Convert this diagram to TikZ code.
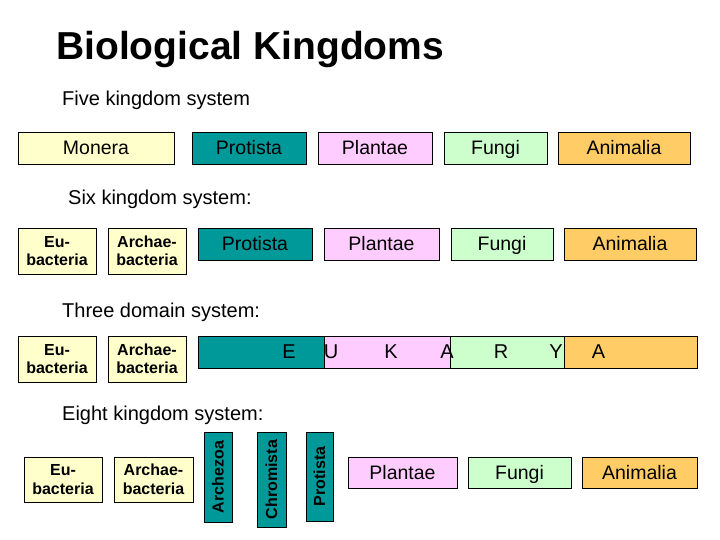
\documentclass[tikz,border=0pt]{standalone}
\usepackage{fontspec}
\setmainfont{Liberation Sans}
\definecolor{cmonera}{HTML}{FFFFCC}
\definecolor{cprotista}{HTML}{009999}
\definecolor{cplantae}{HTML}{FFCCFF}
\definecolor{cfungi}{HTML}{CCFFCC}
\definecolor{canimalia}{HTML}{FFCC66}
\tikzset{
  basebox/.style={draw=black, line width=0.8pt, inner sep=0pt, align=center},
  kbox/.style={basebox, text height=14pt, text depth=0pt,
    font=\fontsize{19.5}{22}\selectfont},
  bbox/.style={basebox, font=\bfseries\fontsize{16}{18.5}\selectfont},
  heading/.style={anchor=base west, inner sep=0pt, font=\fontsize{20}{22}\selectfont},
  letter/.style={inner sep=0pt, text height=14pt, text depth=0pt, font=\fontsize{20}{22}\selectfont}
}
\begin{document}
\begin{tikzpicture}[x=1pt, y=-1pt]
  \useasboundingbox (0,0) rectangle (720,540);

  % Titel
  \node[anchor=base west, inner sep=0pt, font=\bfseries\fontsize{39}{41}\selectfont] (title) at (56,60) {Biological Kingdoms};

  % Fuenf Reiche
  \node[heading] (five) at (62,106) {Five kingdom system};
  \node[kbox, fill=cmonera, minimum width=156pt, minimum height=32pt] (monera1) at (96,148) {Monera};
  \node[kbox, fill=cprotista, minimum width=114pt, minimum height=32pt] (protista1) at (249,148) {Protista};
  \node[kbox, fill=cplantae, minimum width=114pt, minimum height=32pt] (plantae1) at (375,148) {Plantae};
  \node[kbox, fill=cfungi, minimum width=103pt, minimum height=32pt] (fungi1) at (495.5,148) {Fungi};
  \node[kbox, fill=canimalia, minimum width=132pt, minimum height=32pt] (animalia1) at (624,148) {Animalia};

  % Sechs Reiche
  \node[heading] (six) at (68,205) {Six kingdom system:};
  \node[bbox, fill=cmonera, minimum width=78pt, minimum height=46pt] (eu2) at (57,251) {Eu-\\bacteria};
  \node[bbox, fill=cmonera, minimum width=78pt, minimum height=46pt] (archae2) at (147,251) {Archae-\\bacteria};
  \node[kbox, fill=cprotista, minimum width=114pt, minimum height=32pt] (protista2) at (255,244) {Protista};
  \node[kbox, fill=cplantae, minimum width=115pt, minimum height=32pt] (plantae2) at (381.5,244) {Plantae};
  \node[kbox, fill=cfungi, minimum width=102pt, minimum height=32pt] (fungi2) at (502,244) {Fungi};
  \node[kbox, fill=canimalia, minimum width=132pt, minimum height=32pt] (animalia2) at (630,244) {Animalia};

  % Drei Domaenen
  \node[heading] (three) at (62,317) {Three domain system:};
  \node[bbox, fill=cmonera, minimum width=78pt, minimum height=46pt] (eu3) at (57,359) {Eu-\\bacteria};
  \node[bbox, fill=cmonera, minimum width=78pt, minimum height=46pt] (archae3) at (147,359) {Archae-\\bacteria};
  \node[basebox, fill=cprotista, minimum width=126pt, minimum height=32pt] (bar1) at (261,352) {};
  \node[basebox, fill=cplantae, minimum width=126pt, minimum height=32pt] (bar2) at (387,352) {};
  \node[basebox, fill=cfungi, minimum width=114pt, minimum height=32pt] (bar3) at (507,352) {};
  \node[basebox, fill=canimalia, minimum width=133pt, minimum height=32pt] (bar4) at (630.5,352) {};
  \node[letter] (e) at (289,351) {E};
  \node[letter] (u) at (331,351) {U};
  \node[letter] (k) at (391,351) {K};
  \node[letter] (a1) at (447,351) {A};
  \node[letter] (r) at (501,351) {R};
  \node[letter] (y) at (556,351) {Y};
  \node[letter] (a2) at (598.5,351) {A};

  % Acht Reiche
  \node[heading] (eight) at (62,420) {Eight kingdom system:};
  \node[bbox, fill=cmonera, minimum width=78pt, minimum height=45pt] (eu4) at (63,479.5) {Eu-\\bacteria};
  \node[bbox, fill=cmonera, minimum width=79pt, minimum height=45pt] (archae4) at (153.5,479.5) {Archae-\\bacteria};
  \node[bbox, fill=cprotista, rotate=90, minimum width=90pt, minimum height=28pt] (archezoa4) at (218,477) {Archezoa};
  \node[bbox, fill=cprotista, rotate=90, minimum width=95pt, minimum height=29pt] (chromista4) at (271.5,479.5) {Chromista};
  \node[bbox, fill=cprotista, rotate=90, minimum width=89pt, minimum height=27pt] (protista4) at (319.5,476.5) {Protista};
  \node[kbox, fill=cplantae, minimum width=109pt, minimum height=31pt] (plantae4) at (402.5,472.5) {Plantae};
  \node[kbox, fill=cfungi, minimum width=103pt, minimum height=31pt] (fungi4) at (519.5,472.5) {Fungi};
  \node[kbox, fill=canimalia, minimum width=115pt, minimum height=31pt] (animalia4) at (639.5,472.5) {Animalia};
\end{tikzpicture}
\end{document}
